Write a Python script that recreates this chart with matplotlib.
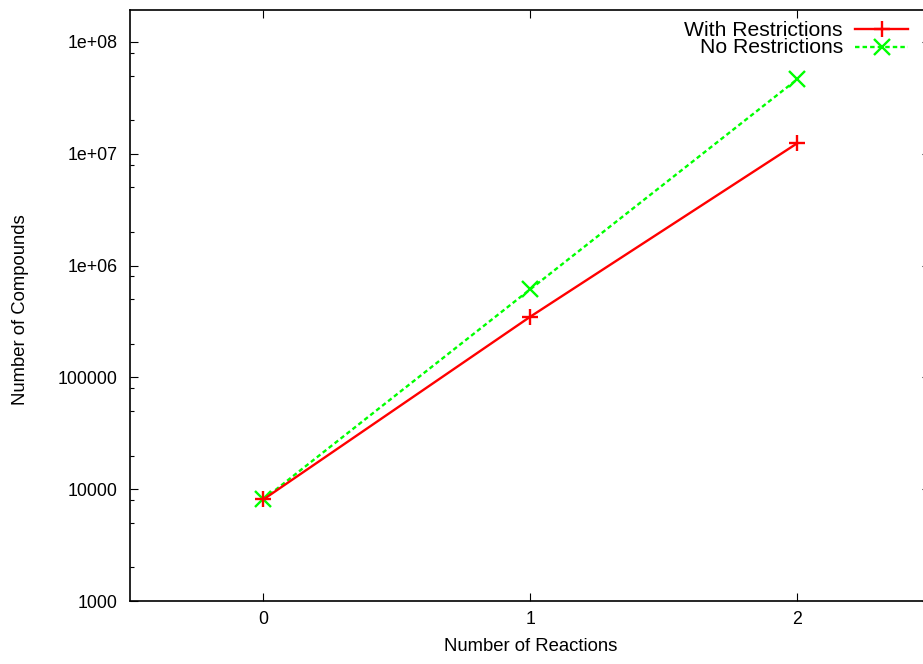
import matplotlib
matplotlib.use("Agg")
import matplotlib.pyplot as plt
from matplotlib.lines import Line2D
from matplotlib.ticker import FixedLocator, NullFormatter

plt.rcParams['font.family'] = ['Liberation Sans', 'DejaVu Sans']

# ---- data ----
reactions = [0, 1, 2]
with_restrictions = [8100, 349000, 12400000]
no_restrictions = [8100, 614000, 46300000]
series_labels = ["With Restrictions", "No Restrictions"]
x_ticks = [0, 1, 2]
x_tick_labels = ["0", "1", "2"]
y_ticks = [1e3, 1e4, 1e5, 1e6, 1e7, 1e8]
y_tick_labels = ["1000", "10000", "100000", "1e+06", "1e+07", "1e+08"]
minor_mults = [2, 5, 8]
x_label = "Number of Reactions"
y_label = "Number of Compounds"

W, H = 923, 664
fig = plt.figure(figsize=(W / 100, H / 100), dpi=100)
ax_left, ax_right, ax_top, ax_bottom = 130, 930.5, 10, 601
ax = fig.add_axes([ax_left / W, 1 - ax_bottom / H,
                   (ax_right - ax_left) / W, (ax_bottom - ax_top) / H])

red_style = dict(color='#ff0000', lw=1.7, marker='+', ms=11.5, mew=1.7, ls='-')
green_style = dict(color='#00ff00', lw=1.7, marker='x', ms=11.0, mew=1.7,
                   ls=(0, (1.9, 1.3)))

ax.plot(reactions, no_restrictions, zorder=3, **green_style)
ax.plot(reactions, with_restrictions, zorder=4, **red_style)

ax.set_yscale('log')
ax.set_xlim(-0.5, 2.5)
ax.set_ylim(1e3, 10 ** (3 + 591 / 111.8))

ax.xaxis.set_major_locator(FixedLocator(x_ticks))
ax.set_xticklabels(x_tick_labels)
ax.xaxis.set_minor_locator(FixedLocator([]))
ax.yaxis.set_major_locator(FixedLocator(y_ticks))
ax.set_yticklabels(y_tick_labels)
minor_vals = [m * d for d in [1e3, 1e4, 1e5, 1e6, 1e7, 1e8] for m in minor_mults]
ax.yaxis.set_minor_locator(FixedLocator(minor_vals))
ax.yaxis.set_minor_formatter(NullFormatter())

ax.tick_params(which='both', direction='in', top=True, right=True,
               width=0.8, colors='black')
ax.tick_params(which='major', length=5.8)
ax.tick_params(which='minor', length=2.9)
ax.tick_params(axis='y', which='major', labelsize=12.8, pad=9)
ax.tick_params(axis='x', which='major', labelsize=12.8, pad=7)
for s in ax.spines.values():
    s.set_linewidth(1.2)
    s.set_color('black')

ax.set_xlabel(x_label, fontsize=13.3)
ax.xaxis.set_label_coords(0.5, (ax_bottom - 638) / (ax_bottom - ax_top))
ax.set_ylabel(y_label, fontsize=13.3)
ax.yaxis.set_label_coords((29 - ax_left) / (ax_right - ax_left),
                          (ax_bottom - 310) / (ax_bottom - ax_top))

# ---- legend (gnuplot style: right-aligned text, sample to the right) ----
leg_text_right = 843
sample_x0, sample_x1 = 855, 908
rows = [(36, 28.5, red_style, series_labels[0]),
        (53.3, 46.5, green_style, series_labels[1])]
for base_y, line_y, st, lab in rows:
    fig.text(leg_text_right / W, 1 - base_y / H, lab, ha='right',
             va='baseline', fontsize=15.2)
    st_line = {k: v for k, v in st.items() if k not in ('marker', 'ms', 'mew')}
    fig.add_artist(Line2D([sample_x0 / W, sample_x1 / W],
                          [1 - line_y / H, 1 - line_y / H],
                          transform=fig.transFigure, **st_line))
    fig.add_artist(Line2D([(sample_x0 + sample_x1) / 2 / W],
                          [1 - line_y / H], transform=fig.transFigure,
                          color=st['color'], marker=st['marker'], ms=st['ms'],
                          mew=st['mew'], ls='none'))

fig.savefig('out.png', dpi=100)
